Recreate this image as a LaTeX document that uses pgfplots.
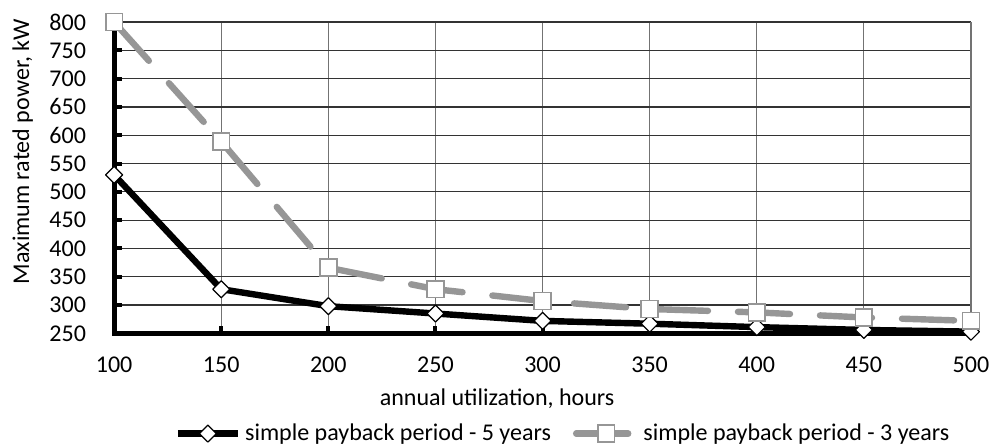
\documentclass[border=0pt]{standalone}
\usepackage{fontspec}
\setmainfont{Carlito}
\usepackage{pgfplots}
\pgfplotsset{compat=1.18}
\definecolor{sgray}{RGB}{150,150,150}
\newcommand{\fs}{\fontsize{12}{14}\selectfont}
\begin{document}
\begin{tikzpicture}
\path[use as bounding box] (-57pt,-56pt) rectangle (443pt,166.5pt);
\begin{axis}[
  scale only axis, width=428pt, height=155.5pt,
  xmin=100, xmax=500, ymin=250, ymax=800,
  xtick={100,150,...,500}, ytick={250,300,...,800},
  axis lines*=left,
  axis line style={line width=2.5pt, black, line cap=rect},
  tick align=inside, major tick length=3.8pt,
  tick style={line width=2pt, black},
  xmajorgrids, ymajorgrids,
  x grid style={line width=0.6pt, black!55},
  y grid style={line width=0.6pt, black!80},
  extra x ticks={500}, extra x tick labels={},
  extra x tick style={major tick length=0pt, grid style={line width=1pt, black}},
  clip=false,
  tick label style={font=\fs},
  /pgf/number format/assume math mode=true,
  yticklabel style={xshift=-10.5pt},
  xticklabel style={yshift=-8pt},
  label style={font=\fs},
  xlabel={annual utilization, hours},
  ylabel={Maximum rated power, kW},
  xlabel style={at={(axis description cs:0.447,-0.2097)}, anchor=center},
  ylabel style={at={(axis description cs:-0.1066,0.584)}, anchor=center},
  legend columns=2,
  legend style={at={(axis description cs:0.525,-0.322)}, anchor=center,
    draw=none, fill=none, font=\fs,
    /tikz/every even column/.append style={column sep=9pt}},
  legend image code/.code={\draw[#1, mark repeat=2, mark phase=2] plot coordinates {(0pt,0pt) (15pt,0pt) (30pt,0pt)};},
]
\addplot[black, line width=3.2pt, line join=round, mark=square*, mark size=3pt,
  mark options={rotate=45, solid, fill=white, draw=black, line width=0.6pt}]
  coordinates {(100,530) (150,328) (200,298) (250,285) (300,272) (350,267) (400,261) (450,256) (500,253)};
\addlegendentry{simple payback period - 5 years}
\addplot[sgray, line width=3.2pt, line cap=round, dash pattern=on 26pt off 15pt,
  mark=square*, mark size=4.2pt,
  mark options={solid, fill=white, draw=sgray, line width=0.8pt}]
  coordinates {(100,800) (150,589) (200,366) (250,328) (300,307) (350,293) (400,287) (450,278) (500,272)};
\addlegendentry{simple payback period - 3 years}
\end{axis}
\end{tikzpicture}
\end{document}
